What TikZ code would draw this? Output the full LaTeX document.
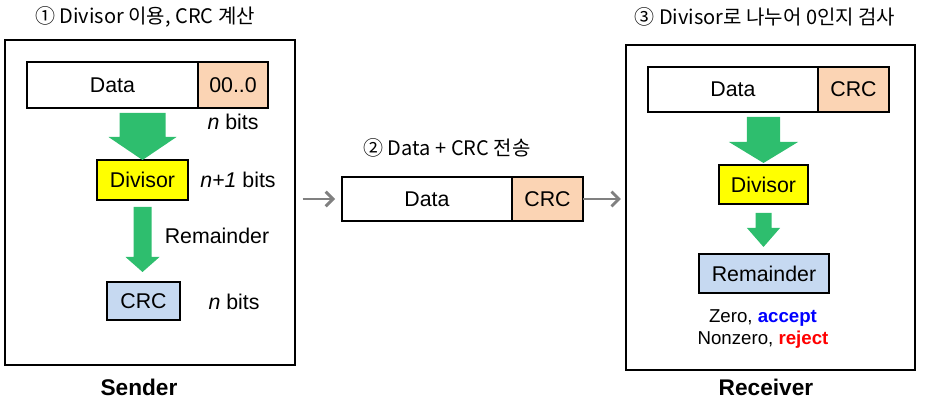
\documentclass[tikz,border=0pt]{standalone}
\usepackage{fontspec}
\setmainfont{Liberation Sans}
\newfontfamily\krfont{Noto Sans CJK KR}
\usetikzlibrary{positioning,calc,arrows.meta}

\definecolor{crcpeach}{RGB}{251,212,180}
\definecolor{divyellow}{RGB}{255,255,0}
\definecolor{remblue}{RGB}{198,217,241}
\definecolor{flowgreen}{RGB}{46,190,110}
\definecolor{sendgray}{RGB}{128,128,128}

\tikzset{
  frame/.style={draw, line width=1.3pt, minimum width=217pt, minimum height=243.75pt},
  cell/.style={draw, line width=1.3pt, outer sep=0pt, inner sep=0pt, font=\fontsize{16}{18}\selectfont},
  note/.style={inner sep=0pt, font=\fontsize{16}{18}\selectfont},
  title/.style={inner sep=0pt, font=\krfont\fontsize{15}{17}\selectfont},
  sidelabel/.style={inner sep=0pt, font=\bfseries\fontsize{17}{19}\selectfont},
  sendarrow/.style={draw=sendgray, line width=2.2pt, -{Straight Barb[length=5.5pt,width=11pt]}}
}

% block arrow: start, tip, shaft half width, head half width, head length
\newcommand{\blockarrow}[5]{%
  \fill[flowgreen] let \p1=(#1), \p2=(#2) in
    (\x1-#3,\y1) -- (\x1+#3,\y1) -- (\x1+#3,\y2+#5) -- (\x1+#4,\y2+#5)
    -- (\x1,\y2) -- (\x1-#4,\y2+#5) -- (\x1-#3,\y2+#5) -- cycle;}

\begin{document}
\begin{tikzpicture}[x=0.75pt, y=-0.75pt]
    \useasboundingbox (0,0) rectangle (933,406);

    % Sender
    \node (sender) [frame] at (150,202.5) {};
    \node (stitle) [title] at (145,17) {① Divisor 이용, CRC 계산};
    \node (sdata) [cell, minimum width=128.25pt, minimum height=34.5pt] at (112.5,85) {Data};
    \node (szero) [cell, fill=crcpeach, minimum width=52.5pt, minimum height=34.5pt, right=0pt of sdata] {00..0};
    \node (snbits) [note] at (233,122) {\textit{n} bits};
    \node (divisor) [cell, fill=divyellow, minimum width=68.25pt, minimum height=30pt] at (142.5,180) {Divisor};
    \node (sdbits) [note] at (238,180) {\textit{n+1} bits};
    \node (srem) [note] at (217,236) {Remainder};
    \node (scrc) [cell, fill=remblue, minimum width=54.75pt, minimum height=28.5pt] at (143.5,301) {CRC};
    \node (scbits) [note] at (234,302) {\textit{n} bits};
    \node (slabel) [sidelabel] at (139,387) {Sender};

    % Transmission
    \node (ttitle) [title] at (447,148) {② Data + CRC 전송};
    \node (tdata) [cell, minimum width=127.5pt, minimum height=33pt] at (427,199) {Data};
    \node (tcrc) [cell, fill=crcpeach, minimum width=53.25pt, minimum height=33pt, right=0pt of tdata] {CRC};

    % Receiver
    \node (receiver) [frame] at (770.5,207.5) {};
    \node (rtitle) [title] at (765,17) {③ Divisor로 나누어 0인지 검사};
    \node (rdata) [cell, minimum width=127.5pt, minimum height=33.75pt] at (733,89.5) {Data};
    \node (rcrc) [cell, fill=crcpeach, minimum width=53.25pt, minimum height=33.75pt, right=0pt of rdata] {CRC};
    \node (rdiv) [cell, fill=divyellow, minimum width=66.75pt, minimum height=29.25pt] at (763.5,184.5) {Divisor};
    \node (rrem) [cell, fill=remblue, minimum width=97.5pt, minimum height=29.25pt] at (764,273.5) {Remainder};
    \node (verdict) [inner sep=0pt, align=center, font=\fontsize{14}{16.5}\selectfont] at (763,329)
        {Zero, \textcolor{blue}{\textbf{accept}}\\Nonzero, \textcolor{red}{\textbf{reject}}};
    \node (rlabel) [sidelabel] at (766,387) {Receiver};

    % Arrows
    \blockarrow{$(divisor.north |- sdata.south)+(0,5)$}{divisor.north}{17.25pt}{25.5pt}{17.25pt}
    \blockarrow{$(divisor.south)+(0,7)$}{$(scrc.north)+(0,-10)$}{6.75pt}{12.75pt}{11.25pt}
    \blockarrow{$(rdiv.north |- rdata.south)+(0,5)$}{$(rdiv.north)+(0,-2)$}{12.4pt}{25.9pt}{15.75pt}
    \blockarrow{$(rdiv.south)+(0,9)$}{$(rrem.north)+(0,-7)$}{6pt}{12.4pt}{14.25pt}
    \draw[sendarrow, shorten <=5.25pt, shorten >=5.25pt] (tdata.west -| sender.east) -- (tdata.west);
    \draw[sendarrow, shorten >=3pt] (tcrc.east) -- (tcrc.east -| receiver.west);
\end{tikzpicture}
\end{document}
